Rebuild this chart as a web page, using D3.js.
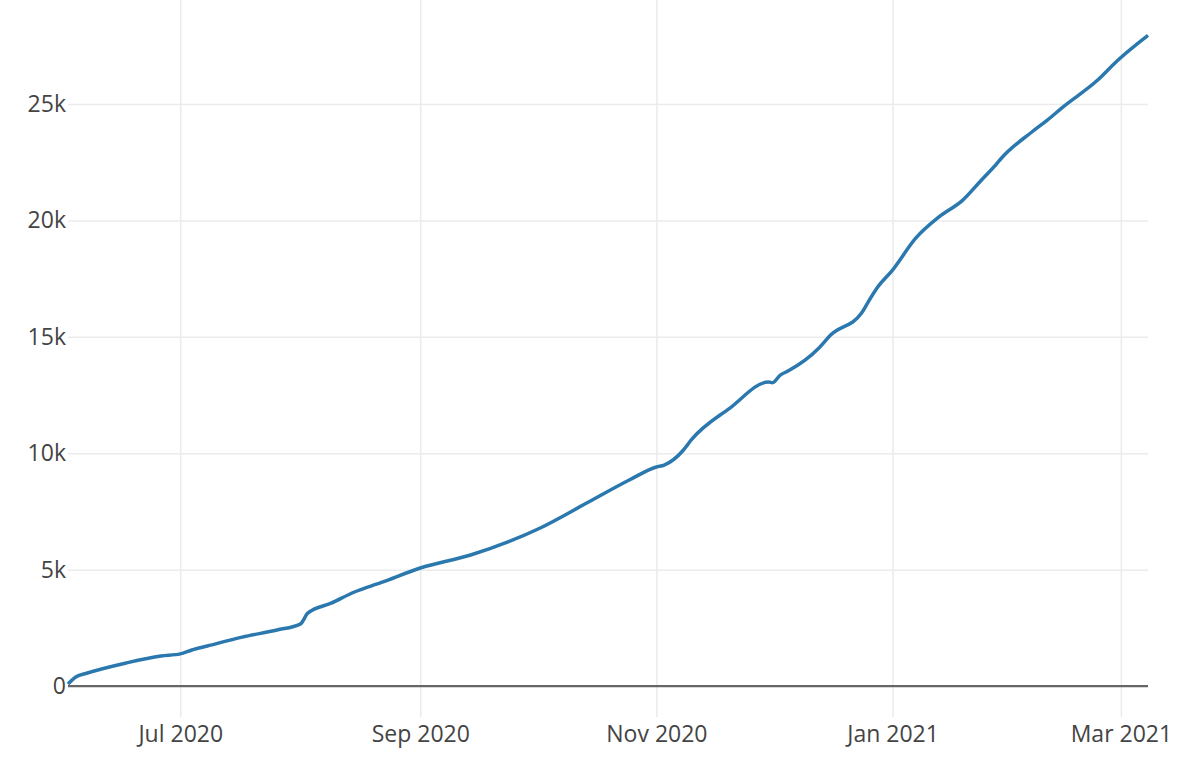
<!DOCTYPE html>
<html lang="en">
<head>
    <meta charset="UTF-8">
    <title>d3</title>
    <script src="https://cdn.jsdelivr.net/npm/d3@7"></script>
    <style>
        body { margin: 0; background: #fff; }
        text { font-family: "Open Sans", sans-serif; }
    </style>
</head>
<body>
    <script>
             // data
             var dates=["2020-06-02","2020-06-04","2020-06-07","2020-06-17","2020-06-26","2020-07-01","2020-07-04","2020-07-08",
                        "2020-07-17","2020-07-26","2020-08-01","2020-08-03","2020-08-09","2020-08-15","2020-08-22","2020-09-01",
                        "2020-09-14","2020-10-02","2020-10-14","2020-10-25","2020-11-01","2020-11-03","2020-11-08","2020-11-10",
                        "2020-11-20","2020-11-30","2020-12-01","2020-12-03","2020-12-05","2020-12-13","2020-12-16","2020-12-24",
                        "2020-12-26","2020-12-28","2021-01-01","2021-01-07","2021-01-13","2021-01-19","2021-01-24","2021-01-28",
                        "2021-01-29","2021-02-06","2021-02-10","2021-02-14","2021-02-23","2021-02-28","2021-03-08"];
             var total=[90,390,560,990,1290,1380,1550,1720,
                        2100,2410,2660,3140,3560,4040,4450,5070,
                        5630,6790,7860,8850,9410,9490,10140,10570,
                        11940,13060,13030,13360,13530,14520,15080,16020,
                        16580,17100,17870,19240,20150,20850,21740,22450,
                        22650,23800,24310,24870,26030,26850,27950];
             var xTicks=["2020-07-01","2020-09-01","2020-11-01","2021-01-01","2021-03-01"];
             var yTicks=[0,5000,10000,15000,20000,25000];

             var width=1200, height=771;
             var padding={left:68, right:1148, top:0, bottom:717};
             var parse=d3.timeParse("%Y-%m-%d");
             var data=dates.map(function(d,i){ return {date:parse(d), value:total[i]}; });

             var svg=d3.select("body").append("svg").attr("width",width).attr("height",height);

             var xScale=d3.scaleTime().domain([parse("2020-06-02"),parse("2021-03-08")]).range([padding.left,padding.right]);
             var yScale=d3.scaleLinear().domain([-1330,29470]).range([padding.bottom,padding.top]);

             //网格线
             svg.append("g")
                     .attr("transform","translate(0,"+padding.bottom+")")
                     .call(d3.axisBottom(xScale).tickValues(xTicks.map(parse)).tickSize(-(padding.bottom-padding.top)).tickFormat(""))
                     .call(function(g){
                         g.select(".domain").remove();
                         g.selectAll("line").attr("stroke","#ebebeb").attr("stroke-width",1.5);
                     });
             svg.append("g")
                     .attr("transform","translate("+padding.left+",0)")
                     .call(d3.axisLeft(yScale).tickValues(yTicks.slice(1)).tickSize(-(padding.right-padding.left)).tickFormat(""))
                     .call(function(g){
                         g.select(".domain").remove();
                         g.selectAll("line").attr("stroke","#ebebeb").attr("stroke-width",1.5);
                     });

             //零线
             svg.append("line")
                     .attr("x1",padding.left).attr("x2",padding.right)
                     .attr("y1",yScale(0)).attr("y2",yScale(0))
                     .attr("stroke","#666").attr("stroke-width",2.2);

             //刻度文字
             svg.append("g")
                     .attr("transform","translate(0,"+padding.bottom+")")
                     .call(d3.axisBottom(xScale).tickValues(xTicks.map(parse)).tickSize(0).tickPadding(9).tickFormat(d3.timeFormat("%b %Y")))
                     .call(function(g){
                         g.select(".domain").remove();
                         g.selectAll("text").attr("fill","#444").style("font-size","23px");
                     });
             svg.append("g")
                     .attr("transform","translate("+padding.left+",0)")
                     .call(d3.axisLeft(yScale).tickValues(yTicks).tickSize(0).tickPadding(2).tickFormat(d3.format("~s")))
                     .call(function(g){
                         g.select(".domain").remove();
                         g.selectAll("text").attr("fill","#444").style("font-size","23px");
                     });

             //折线
             var line=d3.line()
                     .curve(d3.curveMonotoneX)
                     .x(function(d){ return xScale(d.date); })
                     .y(function(d){ return yScale(d.value); });
             svg.append("path")
                     .datum(data)
                     .attr("fill","none")
                     .attr("stroke","#2b78ae")
                     .attr("stroke-width",3.5)
                     .attr("stroke-linejoin","round")
                     .attr("d",line);
    </script>
</body>
</html>
